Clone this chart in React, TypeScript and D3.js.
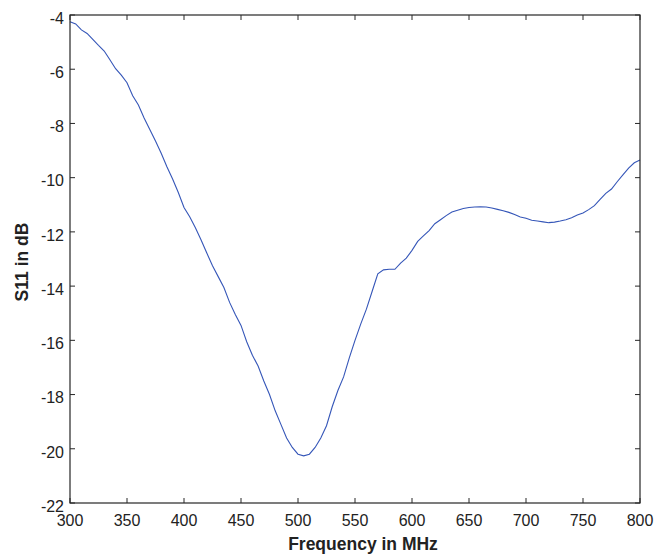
import React, { useEffect, useRef } from 'react';
import * as d3 from 'd3';

const freqs = [
  300, 305, 310, 315, 320, 325, 330, 335, 340, 345, 350, 355, 360, 365, 370, 375, 380, 385, 390, 395,
  400, 405, 410, 415, 420, 425, 430, 435, 440, 445, 450, 455, 460, 465, 470, 475, 480, 485, 490, 495,
  500, 505, 510, 515, 520, 525, 530, 535, 540, 545, 550, 555, 560, 565, 570, 575, 580, 585, 590, 595,
  600, 605, 610, 615, 620, 625, 630, 635, 640, 645, 650, 655, 660, 665, 670, 675, 680, 685, 690, 695,
  700, 705, 710, 715, 720, 725, 730, 735, 740, 745, 750, 755, 760, 765, 770, 775, 780, 785, 790, 795, 800,
];
const s11 = [
  -4.25, -4.33, -4.55, -4.68, -4.9, -5.12, -5.33, -5.65, -5.98, -6.22, -6.5, -6.98, -7.32, -7.8, -8.22, -8.65, -9.1, -9.6, -10.05, -10.55,
  -11.1, -11.44, -11.85, -12.3, -12.78, -13.25, -13.65, -14.05, -14.6, -15.05, -15.45, -16.05, -16.55, -16.95, -17.5, -18.0, -18.6, -19.1, -19.6, -19.95,
  -20.2, -20.26, -20.2, -19.95, -19.6, -19.15, -18.45, -17.85, -17.35, -16.65, -16.0, -15.4, -14.85, -14.2, -13.55, -13.4, -13.38, -13.38, -13.15, -12.97,
  -12.68, -12.35, -12.15, -11.95, -11.7, -11.55, -11.4, -11.27, -11.2, -11.14, -11.1, -11.08, -11.07, -11.08, -11.12, -11.17, -11.22, -11.28, -11.36, -11.45,
  -11.5, -11.57, -11.6, -11.63, -11.66, -11.64, -11.6, -11.55, -11.48, -11.38, -11.3, -11.18, -11.03, -10.8, -10.58, -10.42, -10.15, -9.9, -9.65, -9.45, -9.35,
];

const xTicks = [300, 350, 400, 450, 500, 550, 600, 650, 700, 750, 800];
const yTicks = [-22, -20, -18, -16, -14, -12, -10, -8, -6, -4];

const W = 667;
const H = 556;
const m = { left: 70, right: 27, top: 15, bottom: 53 };

const App = () => {
  const ref = useRef<SVGSVGElement>(null);

  useEffect(() => {
    const svg = d3.select(ref.current);
    svg.selectAll('*').remove();

    const x = d3.scaleLinear().domain([300, 800]).range([m.left, W - m.right]);
    const y = d3.scaleLinear().domain([-22, -4]).range([H - m.bottom, m.top]);
    const font = 'Liberation Sans, Arial, sans-serif';
    const axisColor = '#262626';

    const x0 = x(300), x1 = x(800), y0 = y(-22), y1 = y(-4);

    // the trace
    const line = d3
      .line<number>()
      .x((d, i) => x(freqs[i]))
      .y((d) => y(d));

    svg
      .append('path')
      .datum(s11)
      .attr('d', line)
      .attr('fill', 'none')
      .attr('stroke', '#3556b8')
      .attr('stroke-width', 1.1);

    // box
    svg
      .append('rect')
      .attr('x', x0)
      .attr('y', y1)
      .attr('width', x1 - x0)
      .attr('height', y0 - y1)
      .attr('fill', 'none')
      .attr('stroke', axisColor)
      .attr('stroke-width', 1.2);

    const tl = 5;
    // x ticks, bottom and top, pointing in
    xTicks.forEach((t) => {
      svg.append('line').attr('x1', x(t)).attr('x2', x(t)).attr('y1', y0).attr('y2', y0 - tl).attr('stroke', axisColor);
      svg.append('line').attr('x1', x(t)).attr('x2', x(t)).attr('y1', y1).attr('y2', y1 + tl).attr('stroke', axisColor);
      svg
        .append('text')
        .attr('x', x(t))
        .attr('y', y0 + 23)
        .attr('text-anchor', 'middle')
        .attr('font-family', font)
        .attr('font-size', 16)
        .attr('fill', '#222')
        .text(t);
    });

    // y ticks, left and right
    yTicks.forEach((t) => {
      svg.append('line').attr('x1', x0).attr('x2', x0 + tl).attr('y1', y(t)).attr('y2', y(t)).attr('stroke', axisColor);
      svg.append('line').attr('x1', x1).attr('x2', x1 - tl).attr('y1', y(t)).attr('y2', y(t)).attr('stroke', axisColor);
      svg
        .append('text')
        .attr('x', x0 - 6)
        .attr('y', y(t) + 3)
        .attr('dy', '0.36em')
        .attr('text-anchor', 'end')
        .attr('font-family', font)
        .attr('font-size', 16)
        .attr('fill', '#222')
        .text(t);
    });

    svg
      .append('text')
      .attr('x', (x0 + x1) / 2 + 8)
      .attr('y', 550)
      .attr('text-anchor', 'middle')
      .attr('font-family', font)
      .attr('font-size', 17.5)
      .attr('font-weight', 'bold')
      .attr('fill', '#222')
      .text('Frequency in MHz');

    svg
      .append('text')
      .attr('transform', `translate(28,262) rotate(-90)`)
      .attr('text-anchor', 'middle')
      .attr('font-family', font)
      .attr('font-size', 17.5)
      .attr('font-weight', 'bold')
      .attr('fill', '#222')
      .text('S11 in dB');
  }, []);

  return (
    <svg
      ref={ref}
      width={W}
      height={H}
      style={{ position: 'absolute', left: 0, top: 0, background: '#fff' }}
    ></svg>
  );
};

export default App;
